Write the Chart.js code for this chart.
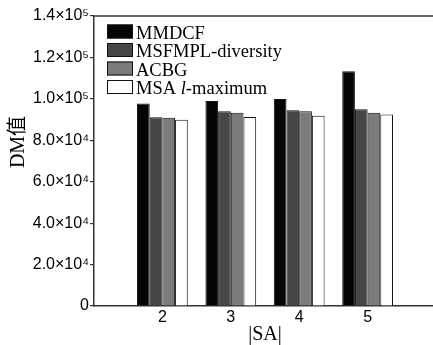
<!DOCTYPE html>
<html>
<head>
<meta charset="utf-8">
<script src="https://cdn.jsdelivr.net/npm/chart.js@4/dist/chart.umd.min.js"></script>
<style>
html,body{margin:0;padding:0;background:#fff;overflow:hidden;}
#wrap{width:438px;height:345px;}
</style>
</head>
<body>
<div id="wrap"><canvas id="c" width="438" height="345"></canvas></div>
<script>
// ---- data ----
const categories = ['2', '3', '4', '5'];
const seriesNames = ['MMDCF', 'MSFMPL-diversity', 'ACBG', 'MSA l-maximum'];
const mmdcf      = [97700, 99000, 99900, 113300];
const msfmpl     = [91100, 94000, 94500, 95000];
const acbg       = [90900, 93300, 94000, 93300];
const msaLmax    = [89900, 91200, 91900, 92500];
const yTickLabels = ['0', '2.0×10⁴', '4.0×10⁴', '6.0×10⁴', '8.0×10⁴', '1.0×10⁵', '1.2×10⁵', '1.4×10⁵'];
const xTitle = '|SA|';
const yTitle = 'DM值';

// category axis padded with an empty slot on each side (axis runs 1..6)
const labels = ['1'].concat(categories, ['6']);
const pad = arr => [null].concat(arr, [null]);
const fills = ['#050505', '#464646', '#7b7b7b', '#ffffff'];
const seriesData = [mmdcf, msfmpl, acbg, msaLmax];

const datasets = seriesData.map((d, i) => ({
  label: seriesNames[i],
  data: pad(d),
  backgroundColor: fills[i],
  borderColor: '#111',
  borderWidth: 1,
  categoryPercentage: 0.742,
  barPercentage: 1.0
}));

const decorPlugin = {
  id: 'decor',
  afterDraw(chart) {
    const ctx = chart.ctx;
    const a = chart.chartArea;
    ctx.save();
    // top frame line
    ctx.strokeStyle = '#333';
    ctx.lineWidth = 1.5;
    ctx.beginPath();
    ctx.moveTo(a.left - 0.75, a.top);
    ctx.lineTo(chart.width, a.top);
    ctx.stroke();

    // legend
    const bx = 107, by0 = 24.5, step = 18.5, bw = 26, bh = 14;
    ctx.textBaseline = 'alphabetic';
    chart.data.datasets.forEach((ds, i) => {
      const y = by0 + i * step;
      ctx.fillStyle = ds.backgroundColor;
      ctx.fillRect(bx, y, bw, bh);
      ctx.strokeStyle = '#111';
      ctx.lineWidth = 1;
      ctx.strokeRect(bx + 0.5, y + 0.5, bw - 1, bh - 1);
      ctx.fillStyle = '#000';
      const base = y + bh;
      let x = 136;
      const normal = '18.5px "Liberation Serif", "Times New Roman", serif';
      const italic = 'italic 18.5px "Liberation Serif", "Times New Roman", serif';
      const lbl = ds.label;
      const m = lbl.match(/^(.*\s)(l)(-.*)$/);
      if (m) {
        const parts = [[m[1], normal], [m[2], italic], [m[3], normal]];
        parts.forEach(p => {
          ctx.font = p[1];
          ctx.fillText(p[0], x, base);
          x += ctx.measureText(p[0]).width;
        });
      } else {
        ctx.font = normal;
        ctx.fillText(lbl, x, base);
      }
    });

    // y axis title
    ctx.translate(19, 142);
    ctx.rotate(-Math.PI / 2);
    ctx.font = '20px "Liberation Serif", "Noto Sans CJK SC", serif';
    ctx.textAlign = 'center';
    ctx.textBaseline = 'middle';
    ctx.fillStyle = '#000';
    ctx.fillText(yTitle, 0, 0);
    ctx.restore();
  }
};

new Chart(document.getElementById('c'), {
  type: 'bar',
  data: { labels: labels, datasets: datasets },
  options: {
    responsive: false,
    animation: false,
    devicePixelRatio: 1,
    layout: { padding: { top: 16, left: 0, right: 0, bottom: 0 } },
    plugins: { legend: { display: false }, tooltip: { enabled: false } },
    scales: {
      x: {
        type: 'category',
        offset: false,
        grid: { display: false, drawTicks: false },
        border: { display: true, color: '#333', width: 1.5 },
        ticks: {
          padding: 2,
          color: '#000',
          maxRotation: 0,
          autoSkip: false,
          font: { family: '"Liberation Sans", Arial, sans-serif', size: 16 },
          callback: function (v, i) {
            const l = this.getLabelForValue(v);
            return categories.includes(l) ? l : '';
          }
        },
        title: {
          display: true,
          text: xTitle,
          color: '#000',
          padding: { top: 0, bottom: 0 },
          font: { family: '"Liberation Serif", "Times New Roman", serif', size: 20, lineHeight: 1 }
        },
        afterFit: s => { s.height = 39; }
      },
      y: {
        min: 0,
        max: 140000,
        ticks: {
          stepSize: 20000,
          padding: 1,
          color: '#000',
          font: { family: '"Liberation Sans", Arial, sans-serif', size: 16 },
          callback: (v, i) => yTickLabels[i]
        },
        grid: { drawOnChartArea: false, drawTicks: true, tickLength: 4, color: '#333', lineWidth: 1.2 },
        border: { display: true, color: '#333', width: 1.5 },
        afterFit: s => { s.width = 94; }
      }
    }
  },
  plugins: [decorPlugin]
});
</script>
</body>
</html>
